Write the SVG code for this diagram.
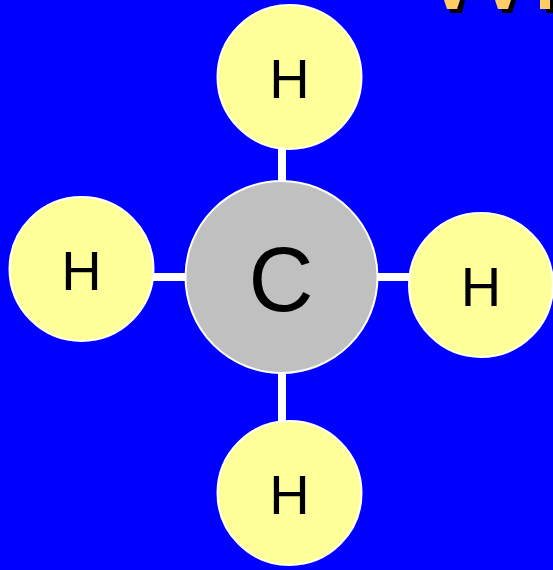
<svg xmlns="http://www.w3.org/2000/svg" width="553" height="570" viewBox="0 0 553 570">
<style>
.h{fill:#ffff99;stroke:#fff;stroke-width:2}
.c{fill:#c0c0c0;stroke:#fff;stroke-width:2}
.t{font-family:"Liberation Sans",Arial,sans-serif;fill:#000;text-anchor:middle}
.b{stroke:#fff;stroke-width:8;fill:none}
</style>
<rect width="553" height="570" fill="#0000ff"/>
<g id="title-fragment">
<path d="M449 0H465L462 13H450Z M501 0H516L512 13H502Z M546 0H553V13H546Z" fill="#000"/>
<path d="M444 0H460L457 9H447Z M495 0H511L508 9H498Z M540 0H550V9H540Z" fill="#ffcc66"/>
</g>
<g id="connectors">
<line class="b" x1="282" y1="148" x2="282" y2="183"/>
<line class="b" x1="282" y1="372" x2="282" y2="423"/>
<line class="b" x1="153" y1="277" x2="187" y2="277"/>
<line class="b" x1="376" y1="277" x2="411" y2="277"/>
</g>
<g id="carbon"><circle class="c" cx="281.500" cy="277" r="96"/><text class="t" x="281" y="311" font-size="90">C</text></g>
<g id="h-top"><circle class="h" cx="289.500" cy="77" r="72"/><text class="t" x="289.500" y="98" font-size="56">H</text></g>
<g id="h-left"><circle class="h" cx="81.500" cy="269" r="72"/><text class="t" x="81.500" y="290" font-size="56">H</text></g>
<g id="h-right"><circle class="h" cx="481" cy="285" r="72"/><text class="t" x="481" y="306" font-size="56">H</text></g>
<g id="h-bottom"><circle class="h" cx="289.500" cy="493" r="72"/><text class="t" x="289.500" y="514" font-size="56">H</text></g>
</svg>
